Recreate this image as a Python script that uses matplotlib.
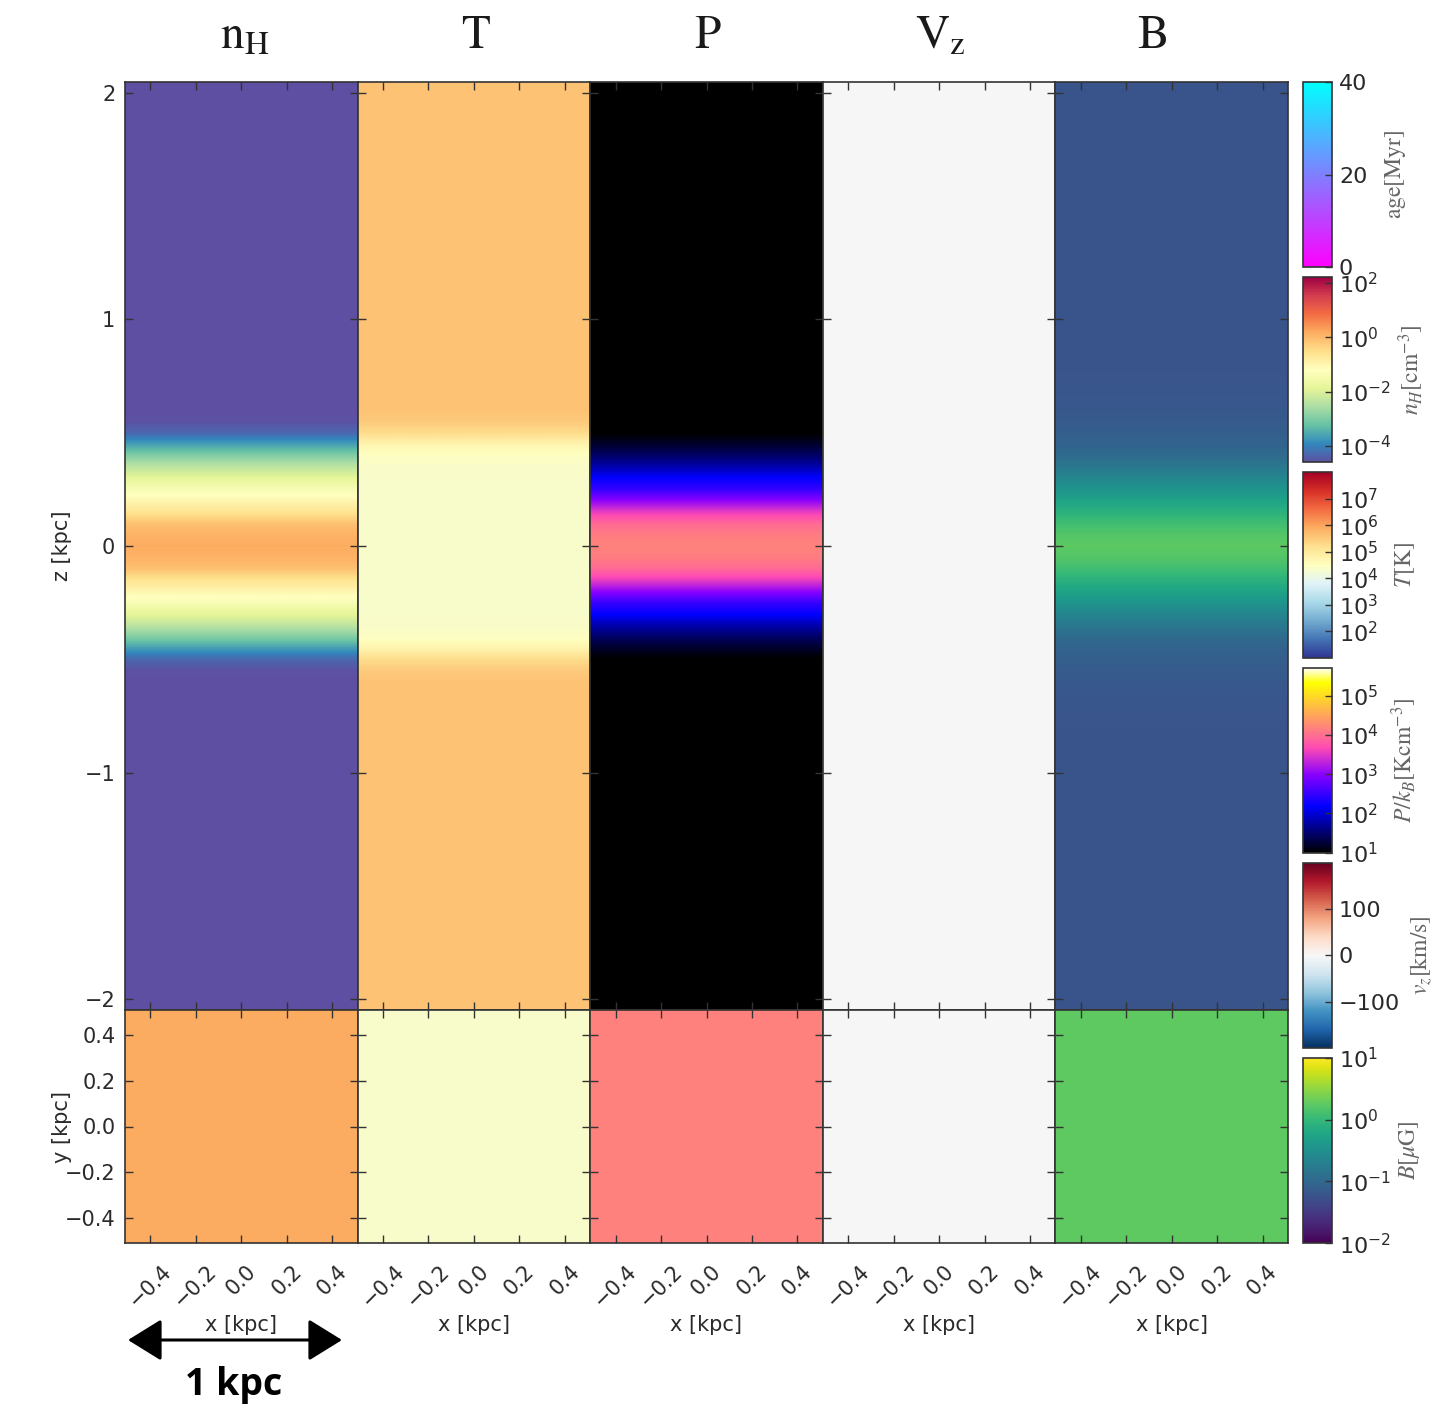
import numpy as np
import matplotlib
matplotlib.use("Agg")
import matplotlib.pyplot as plt
from matplotlib.colors import LogNorm, Normalize
from matplotlib.cm import ScalarMappable

plt.rcParams["mathtext.fontset"] = "stix"
plt.rcParams["axes.linewidth"] = 1.2

W, H = 1434, 1407

# half profiles at z = 0.00, 0.05, ..., 0.80 kpc (mirrored for z < 0)
Z_STEP = 0.05
LOG_NH = [0.16, 0.09, -0.11, -0.62, -1.00, -1.40, -1.85, -2.35, -2.95,
          -3.65, -4.30, -4.55, -4.60, -4.60, -4.60, -4.60, -4.60]
LOG_T = [4.35, 4.35, 4.35, 4.35, 4.35, 4.35, 4.36, 4.38, 4.45,
         4.75, 5.25, 5.50, 5.60, 5.60, 5.60, 5.60, 5.60]
LOG_P = [4.18, 4.13, 3.95, 3.55, 3.02, 2.50, 2.20, 1.80, 1.48,
         1.20, 1.00, 0.85, 0.80, 0.80, 0.80, 0.80, 0.80]
VZ = [0.0, 0.0, 0.0, 0.0, 0.0, 0.0, 0.0, 0.0, 0.0,
      0.0, 0.0, 0.0, 0.0, 0.0, 0.0, 0.0, 0.0]
LOG_B = [0.25, 0.20, 0.08, -0.08, -0.26, -0.44, -0.62, -0.80, -0.95,
         -1.05, -1.10, -1.14, -1.17, -1.19, -1.20, -1.21, -1.22]

TITLES = [r"$\mathrm{n_H}$", r"$\mathrm{T}$", r"$\mathrm{P}$", r"$\mathrm{V_z}$", r"$\mathrm{B}$"]
TITLE_X = [245, 476, 708, 940, 1152]

# panel colour scales (image values in log10 where the bar is logarithmic)
PANELS = [
    (LOG_NH, "Spectral_r", -4.6, 2.2),
    (LOG_T, "RdYlBu_r", 1.0, 8.0),
    (LOG_P, "gnuplot2", 1.0, 5.71),
    (VZ, "RdBu_r", -200, 200),
    (LOG_B, "viridis", -2.0, 1.0),
]

# colour bars, top to bottom
CBARS = [
    ("cool_r", Normalize(0, 40), [0, 20, 40], r"$\mathrm{age[Myr]}$", 1395),
    ("Spectral_r", LogNorm(10**-4.6, 10**2.2), [1e-4, 1e-2, 1e0, 1e2],
     r"$n_H[\mathrm{cm}^{-3}]$", 1411),
    ("RdYlBu_r", LogNorm(1e1, 1e8), [1e2, 1e3, 1e4, 1e5, 1e6, 1e7],
     r"$T[\mathrm{K}]$", 1405),
    ("gnuplot2", LogNorm(1e1, 10**5.71), [1e1, 1e2, 1e3, 1e4, 1e5],
     r"$P/k_B[\mathrm{Kcm}^{-3}]$", 1404),
    ("RdBu_r", Normalize(-200, 200), [-100, 0, 100], r"$v_z[\mathrm{km/s}]$", 1422),
    ("viridis", LogNorm(1e-2, 1e1), [1e-2, 1e-1, 1e0, 1e1], r"$B[\mu\mathrm{G}]$", 1409),
]

XT = [-0.4, -0.2, 0.0, 0.2, 0.4]
ZT = [-2, -1, 0, 1, 2]
YT = [-0.4, -0.2, 0.0, 0.2, 0.4]
HALF_X = 0.512
HALF_Z = 2.048


def column(half):
    half = np.asarray(half, dtype=float)
    pad = np.full(25, half[-1])
    full = np.concatenate([pad, half[:0:-1], half, pad])
    return np.repeat(full[:, None], 2, axis=1)


def frac(x0, y0, x1, y1):
    return [x0 / W, 1 - y1 / H, (x1 - x0) / W, (y1 - y0) / H]


fig = plt.figure(figsize=(W / 100, H / 100), dpi=100)
TC = "#2a2a2a"

x_left, x_right = 125, 1288
cw = (x_right - x_left) / 5
for i, (vals, cmap, lo, hi) in enumerate(PANELS):
    x0 = x_left + i * cw
    ax = fig.add_axes(frac(x0, 82, x0 + cw, 1010))
    img = column(vals)
    n = img.shape[0]
    ext = n * Z_STEP / 2
    ax.imshow(img, cmap=cmap, vmin=lo, vmax=hi, origin="lower", aspect="auto",
              interpolation="bilinear", interpolation_stage="data",
              extent=(-HALF_X, HALF_X, -ext, ext))
    ax.set_xlim(-HALF_X, HALF_X)
    ax.set_ylim(-HALF_Z, HALF_Z)
    ax.set_xticks(XT)
    ax.set_yticks(ZT)
    ax.set_xticklabels([])
    if i > 0:
        ax.set_yticklabels([])

    axb = fig.add_axes(frac(x0, 1010, x0 + cw, 1243))
    flat = np.full((2, 2), float(vals[0]))
    axb.imshow(flat, cmap=cmap, vmin=lo, vmax=hi, origin="lower", aspect="auto",
               extent=(-HALF_X, HALF_X, -HALF_X, HALF_X))
    axb.set_xlim(-HALF_X, HALF_X)
    axb.set_ylim(-HALF_X, HALF_X)
    axb.set_xticks(XT)
    axb.set_yticks(YT)
    axb.set_xticklabels([f"{v:.1f}".replace("-", "\u2212") for v in XT], rotation=45)
    if i > 0:
        axb.set_yticklabels([])
    else:
        axb.set_yticklabels([f"{v:.1f}".replace("-", "\u2212") for v in YT])

    for a in (ax, axb):
        a.tick_params(direction="in", top=True, right=True, length=6, width=1,
                      color="#333333", labelsize=15, labelcolor=TC)
        a.tick_params(axis="x", pad=13)
        a.tick_params(axis="y", pad=7)
        for s in a.spines.values():
            s.set_color("#333333")

    fig.text((x0 + cw / 2) / W, 1 - 1325 / H, "x [kpc]", ha="center", va="center",
             fontsize=15, color=TC)
    fig.text(TITLE_X[i] / W, 1 - 48 / H, TITLES[i], ha="center", va="baseline",
             fontsize=34, color="#1a1a1a")

fig.text(62 / W, 1 - 546 / H, "z [kpc]", rotation=90, ha="center", va="center",
         fontsize=15, color=TC)
fig.text(62 / W, 1 - 1127 / H, "y [kpc]", rotation=90, ha="center", va="center",
         fontsize=15, color=TC)

# colour bars
cb_h, cb_gap = 185.2, 10
for k, (cmap, norm, ticks, label, lx) in enumerate(CBARS):
    y0 = 82 + k * (cb_h + cb_gap)
    cax = fig.add_axes(frac(1303, y0, 1332, y0 + cb_h))
    cb = fig.colorbar(ScalarMappable(norm=norm, cmap=cmap), cax=cax, ticks=ticks)
    cb.minorticks_off()
    if k == 4:
        cb.set_ticklabels(["\u2212100", "0", "100"])
    cax.tick_params(direction="in", length=5, width=1, color="#333333",
                    labelsize=16, labelcolor=TC, pad=5)
    cb.outline.set_edgecolor("#333333")
    cax.text((lx - 1303) / 29, 0.5, label, transform=cax.transAxes, rotation=90,
             ha="center", va="center", fontsize=17, color="#666666")

# scale arrow
ov = fig.add_axes([0, 0, 1, 1])
ov.set_xlim(0, W)
ov.set_ylim(H, 0)
ov.axis("off")
ov.annotate("", xy=(342, 1340), xytext=(128, 1340),
            arrowprops=dict(arrowstyle="<|-|>,head_length=1.05,head_width=0.65",
                            mutation_scale=20, lw=2.2, color="black",
                            shrinkA=0, shrinkB=0))
ov.text(234, 1385, "1 kpc", ha="center", va="center", fontsize=27,
        fontweight="bold", family="Open Sans", color="black")

fig.savefig("out.png", dpi=100)
